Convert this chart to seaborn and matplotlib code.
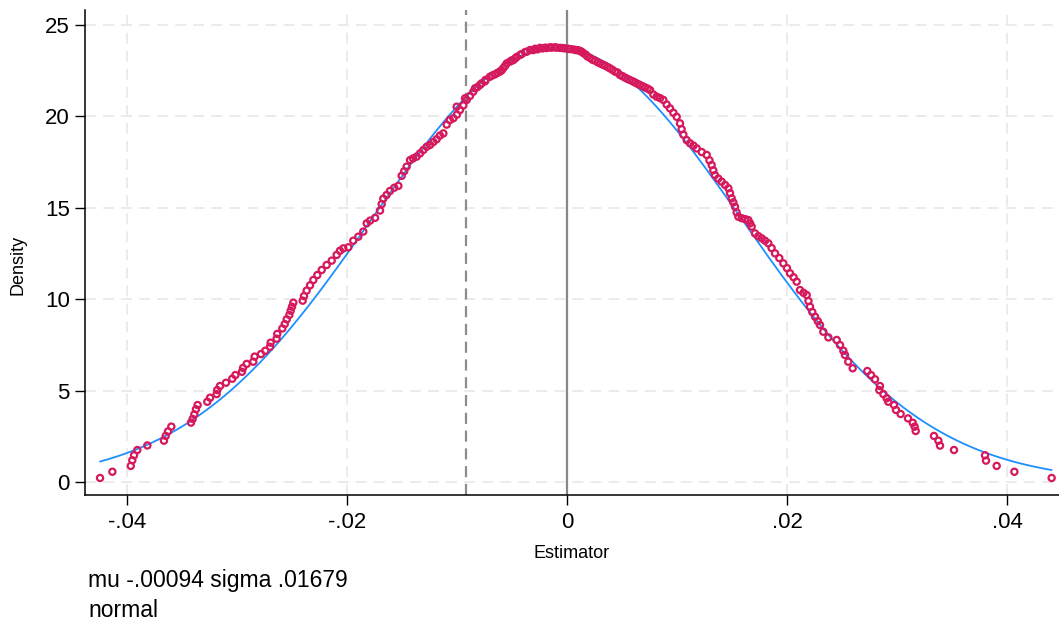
import numpy as np
import pandas as pd
import matplotlib
matplotlib.use("Agg")
import matplotlib.pyplot as plt
import seaborn as sns

# ---- data ----
est_x = [-0.04245, -0.04133, -0.03966, -0.03952, -0.03936, -0.03906, -0.03815, -0.03664, -0.03648, -0.03627,
         -0.03597, -0.03418, -0.03403, -0.03388, -0.03373, -0.03358, -0.03270, -0.03245, -0.03185, -0.03180,
         -0.03155, -0.03100, -0.03043, -0.03015, -0.02955, -0.02945, -0.02912, -0.02852, -0.02840, -0.02782,
         -0.02743, -0.02700, -0.02694, -0.02640, -0.02634, -0.02588, -0.02566, -0.02548, -0.02524, -0.02512,
         -0.02500, -0.02488, -0.02403, -0.02391, -0.02367, -0.02336, -0.02306, -0.02270, -0.02230, -0.02185,
         -0.02139, -0.02094, -0.02064, -0.02033, -0.01988, -0.01943, -0.01897, -0.01852, -0.01821, -0.01790,
         -0.01745, -0.01700, -0.01685, -0.01670, -0.01640, -0.01609, -0.01570, -0.01533, -0.01503, -0.01480,
         -0.01458, -0.01427, -0.01400, -0.01367, -0.01336, -0.01306, -0.01276, -0.01245, -0.01215, -0.01185,
         -0.01155, -0.01124, -0.01094, -0.01065, -0.01033, -0.01000, -0.00973, -0.00942, -0.00912, -0.00882,
         -0.00852, -0.00815, -0.00776, -0.00740, -0.00700, -0.00655, -0.00609, -0.00578, -0.00548, -0.00518,
         -0.00488, -0.00457, -0.00427, -0.00380, -0.00336, -0.00290, -0.00245, -0.00200, -0.00155, -0.00110,
         -0.00064, -0.00020, 0.00012, 0.00058, 0.00100, 0.00133, 0.00170, 0.00209, 0.00255, 0.00300,
         0.00345, 0.00391, 0.00436, 0.00482, 0.00528, 0.00573, 0.00620, 0.00664, 0.00710, 0.00755,
         0.00785, 0.00815, 0.00846, 0.00876, 0.00906, 0.00936, 0.00967, 0.00997, 0.01027, 0.01042,
         0.01058, 0.01088, 0.01118, 0.01150, 0.01179, 0.01225, 0.01270, 0.01295, 0.01315, 0.01330,
         0.01345, 0.01375, 0.01406, 0.01437, 0.01467, 0.01482, 0.01497, 0.01512, 0.01527, 0.01542,
         0.01558, 0.01588, 0.01620, 0.01648, 0.01664, 0.01679, 0.01709, 0.01740, 0.01770, 0.01800,
         0.01830, 0.01860, 0.01891, 0.01930, 0.01967, 0.02000, 0.02027, 0.02060, 0.02088, 0.02118,
         0.02150, 0.02179, 0.02195, 0.02209, 0.02230, 0.02255, 0.02280, 0.02300, 0.02330, 0.02376,
         0.02452, 0.02482, 0.02512, 0.02527, 0.02557, 0.02597, 0.02730, 0.02764, 0.02800, 0.02845,
         0.02839, 0.02876, 0.02906, 0.02921, 0.02973, 0.02991, 0.03033, 0.03100, 0.03143, 0.03160,
         0.03170, 0.03336, 0.03376, 0.03391, 0.03518, 0.03800, 0.03809, 0.03906, 0.04067, 0.04406]
density = [0.22, 0.56, 0.88, 1.19, 1.46, 1.75, 2.00, 2.26, 2.52, 2.77,
           3.03, 3.25, 3.45, 3.70, 3.98, 4.21, 4.39, 4.61, 4.81, 5.03,
           5.25, 5.43, 5.65, 5.85, 6.03, 6.24, 6.46, 6.58, 6.86, 7.00,
           7.18, 7.40, 7.62, 7.84, 8.10, 8.40, 8.64, 8.90, 9.14, 9.37,
           9.59, 9.81, 9.92, 10.17, 10.47, 10.76, 11.05, 11.32, 11.60, 11.87,
           12.11, 12.42, 12.65, 12.78, 12.84, 13.20, 13.42, 13.70, 14.15, 14.30,
           14.45, 14.85, 15.20, 15.50, 15.70, 15.92, 16.10, 16.20, 16.75, 17.00,
           17.25, 17.61, 17.70, 17.80, 17.98, 18.16, 18.34, 18.44, 18.60, 18.75,
           18.95, 19.07, 19.55, 19.80, 19.90, 20.10, 20.35, 20.60, 20.90, 21.12,
           21.35, 21.60, 21.81, 22.00, 22.17, 22.30, 22.45, 22.65, 22.90, 23.00,
           23.08, 23.25, 23.36, 23.52, 23.63, 23.70, 23.75, 23.76, 23.78, 23.78,
           23.75, 23.72, 23.70, 23.66, 23.62, 23.54, 23.38, 23.20, 23.05, 22.90,
           22.78, 22.63, 22.45, 22.26, 22.12, 21.99, 21.85, 21.72, 21.58, 21.44,
           21.20, 21.08, 21.00, 20.90, 20.65, 20.44, 20.20, 19.98, 19.62, 19.30,
           19.00, 18.70, 18.53, 18.40, 18.25, 18.05, 17.89, 17.60, 17.34, 17.05,
           16.79, 16.60, 16.43, 16.25, 16.07, 15.80, 15.52, 15.30, 15.06, 14.75,
           14.51, 14.43, 14.38, 14.33, 14.15, 13.97, 13.60, 13.45, 13.33, 13.20,
           13.06, 12.80, 12.51, 12.25, 11.96, 11.70, 11.42, 11.20, 10.96, 10.50,
           10.35, 10.23, 9.90, 9.59, 9.30, 9.04, 8.80, 8.59, 8.22, 7.91,
           7.77, 7.49, 7.18, 6.95, 6.58, 6.22, 6.07, 5.85, 5.62, 5.25,
           5.03, 4.81, 4.58, 4.39, 4.21, 3.94, 3.72, 3.48, 3.24, 3.03,
           2.79, 2.52, 2.26, 1.99, 1.75, 1.46, 1.17, 0.88, 0.56, 0.22]

# extra readings of the dense band around the peak (second, finer read)
peak_x = [-0.01003, -0.00927, -0.00836, -0.00791, -0.00745, -0.00679, -0.00632, -0.00594, -0.00563, -0.00503,
          -0.00470, -0.00412, -0.00366, -0.00306, -0.00268, -0.00222, -0.00185, -0.00140, -0.00094, -0.00040,
          0.00030, 0.00080, 0.00118, 0.00150, 0.00185, 0.00232, 0.00278, 0.00323, 0.00370, 0.00412,
          0.00460, 0.00505, 0.00550, 0.00598, 0.00642, 0.00688, 0.00733]
peak_density = [20.53, 20.99, 21.54, 21.72, 21.92, 22.24, 22.38, 22.52, 22.76, 23.06,
                23.18, 23.41, 23.54, 23.63, 23.67, 23.72, 23.74, 23.76, 23.76, 23.74,
                23.68, 23.63, 23.58, 23.46, 23.28, 23.10, 22.97, 22.84, 22.70, 22.55,
                22.40, 22.20, 22.05, 21.92, 21.78, 21.65, 21.52]

MU = -0.00094
SIGMA = 0.01679
ref_line_x = -0.0092   # dashed vertical reference line
zero_line_x = 0.0

x_ticks = [-0.04, -0.02, 0.0, 0.02, 0.04]
x_tick_labels = ["-.04", "-.02", "0", ".02", ".04"]
y_ticks = [0, 5, 10, 15, 20, 25]
y_tick_labels = ["0", "5", "10", "15", "20", "25"]
note_lines = ["mu -.00094 sigma .01679", "normal"]

# ---- styling ----
sns.set_theme(style="white")
plt.rcParams['font.family'] = ['Liberation Sans', 'DejaVu Sans']

MARKER_COLOR = "#d6185c"
NORMAL_COLOR = "#1e8fff"

df = pd.DataFrame({"Estimator": est_x + peak_x, "Density": density + peak_density})
grid_x = np.linspace(min(est_x), max(est_x), 400)
normal_df = pd.DataFrame({
    "Estimator": grid_x,
    "Density": np.exp(-0.5 * ((grid_x - MU) / SIGMA) ** 2) / (SIGMA * np.sqrt(2 * np.pi)),
})

fig = plt.figure(figsize=(10.59, 6.23), dpi=100)
ax = fig.add_axes([85 / 1059, 1 - 495 / 623, 1 - 85 / 1059, (495 - 10) / 623])

# grid
for xv in x_ticks:
    ax.axvline(xv, color="#e9e9e9", lw=1.3, ls=(0, (6, 4)), zorder=0)
for yv in y_ticks:
    ax.axhline(yv, color="#e9e9e9", lw=1.3, ls=(0, (6, 4)), zorder=0)

ax.axvline(ref_line_x, color="#8c8c8c", lw=1.6, ls=(0, (5, 3)), zorder=1)
ax.axvline(zero_line_x, color="#888888", lw=1.6, zorder=1)

sns.lineplot(data=normal_df, x="Estimator", y="Density", ax=ax, color=NORMAL_COLOR,
             lw=1.3, zorder=2, legend=False)
sns.scatterplot(data=df, x="Estimator", y="Density", ax=ax, s=20, marker="o",
                facecolors="none", edgecolor=MARKER_COLOR, linewidth=1.6, zorder=3, legend=False)

ax.set_xlim((85 - 567) / 11000, (1059 - 567) / 11000)
ax.set_ylim((482 - 495) / 18.28, (482 - 10) / 18.28)

ax.set_xticks(x_ticks)
ax.set_xticklabels(x_tick_labels)
ax.set_yticks(y_ticks)
ax.set_yticklabels(y_tick_labels)
ax.tick_params(axis="both", which="major", labelsize=16, length=7, width=1.0,
               color="black", labelcolor="black", direction="out",
               left=True, bottom=True)
ax.tick_params(axis="x", pad=5)
ax.tick_params(axis="y", pad=4)

for side in ["top", "right"]:
    ax.spines[side].set_visible(False)
for side in ["left", "bottom"]:
    ax.spines[side].set_visible(True)
    ax.spines[side].set_color("black")
    ax.spines[side].set_linewidth(1.1)

ax.set_xlabel("Estimator", fontsize=13, color="black", labelpad=9)
ax.set_ylabel("")
fig.text(18 / 1059, 1 - 265 / 623, "Density", rotation=90, fontsize=13,
         ha="center", va="center", color="black")

fig.text(88 / 1059, 1 - 587 / 623, note_lines[0], fontsize=16.5, ha="left", va="baseline", color="black")
fig.text(88 / 1059, 1 - 617 / 623, note_lines[1], fontsize=16.5, ha="left", va="baseline", color="black")

fig.savefig("out.png", dpi=100, facecolor="white")
